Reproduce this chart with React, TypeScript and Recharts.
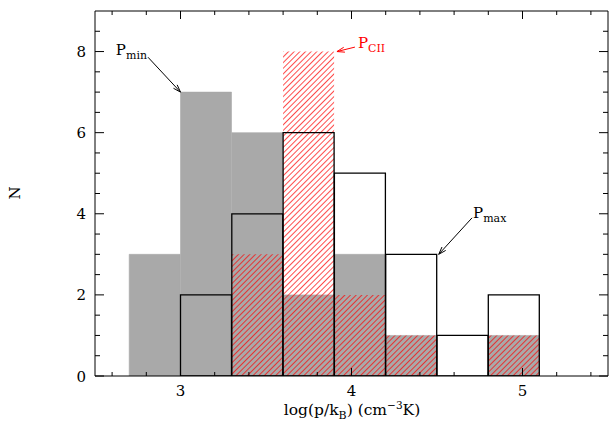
import { Bar, ComposedChart, ReferenceLine, XAxis, YAxis } from "recharts";

// histogram bins of log(p/kB), width 0.3 dex
const bins = ["2.7-3.0", "3.0-3.3", "3.3-3.6", "3.6-3.9", "3.9-4.2", "4.2-4.5", "4.5-4.8", "4.8-5.1", "5.1-5.4"];
const binMid = [2.85, 3.15, 3.45, 3.75, 4.05, 4.35, 4.65, 4.95, 5.25];
const pMin = [3, 7, 6, 2, 3, 1, 0, 1, 0];
const pMax = [0, 2, 4, 6, 5, 3, 1, 2, 0];
const pCII = [0, 0, 3, 8, 2, 1, 0, 1, 0];

const xTicks = [2.6, 2.8, 3, 3.2, 3.4, 3.6, 3.8, 4, 4.2, 4.4, 4.6, 4.8, 5, 5.2, 5.4];
const yTicks = [0, 0.5, 1, 1.5, 2, 2.5, 3, 3.5, 4, 4.5, 5, 5.5, 6, 6.5, 7, 7.5, 8, 8.5];
const xLabels = [3, 4, 5];
const yLabels = [0, 2, 4, 6, 8];

const data = bins.map((bin, i) => ({ bin, mid: binMid[i], pMin: pMin[i], pMax: pMax[i], pCII: pCII[i] }));

const FONT = "'DejaVu Serif', serif";
const W = 609;
const H = 421;
const LEFT = 95;
const TOP = 11;
const PX_PER_UNIT = (W - LEFT - 1) / 3;
const BIN_PAD = { left: 0.2 * PX_PER_UNIT, right: 0.1 * PX_PER_UNIT };

const BottomTick = (props: any) => {
  const { x, y, payload } = props;
  const major = xLabels.includes(payload.value);
  return (
    <g>
      <line x1={x} x2={x} y1={y} y2={y - (major ? 8 : 4)} stroke="#000" />
      {major && (
        <text x={x} y={y + 20} textAnchor="middle" fontSize={15} fontFamily={FONT} fill="#000">
          {payload.value}
        </text>
      )}
    </g>
  );
};

const TopTick = (props: any) => {
  const { x, y, payload } = props;
  const major = xLabels.includes(payload.value);
  return <line x1={x} x2={x} y1={y} y2={y + (major ? 8 : 4)} stroke="#000" />;
};

const LeftTick = (props: any) => {
  const { x, y, payload } = props;
  const major = yLabels.includes(payload.value);
  return (
    <g>
      <line x1={x} x2={x + (major ? 9 : 5)} y1={y} y2={y} stroke="#000" />
      {major && (
        <text x={x - 9} y={y + 5.5} textAnchor="end" fontSize={15} fontFamily={FONT} fill="#000">
          {payload.value}
        </text>
      )}
    </g>
  );
};

const RightTick = (props: any) => {
  const { x, y, payload } = props;
  const major = yLabels.includes(payload.value);
  return <line x1={x} x2={x - (major ? 9 : 5)} y1={y} y2={y} stroke="#000" />;
};

const makeArrow = (name: string, sub: string, color: string, place: "left" | "right" | "above") => (p: any) => {
  const { x1, y1, x2, y2 } = p;
  const ang = Math.atan2(y2 - y1, x2 - x1);
  const len = 8;
  const spread = 0.32;
  const ax = x2 - len * Math.cos(ang - spread);
  const ay = y2 - len * Math.sin(ang - spread);
  const bx = x2 - len * Math.cos(ang + spread);
  const by = y2 - len * Math.sin(ang + spread);
  let tx = x1;
  let ty = y1;
  let anchor = "start";
  if (place === "left") {
    tx = x1 - 1;
    ty = y1 - 2;
    anchor = "end";
  } else if (place === "right") {
    tx = x1 + 3;
    ty = y1 + 1;
  } else {
    tx = x1 + 1;
    ty = y1;
  }
  return (
    <g>
      <line x1={x1} y1={y1} x2={x2} y2={y2} stroke={color} strokeWidth={1} />
      <polyline points={`${ax},${ay} ${x2},${y2} ${bx},${by}`} fill="none" stroke={color} strokeWidth={1} />
      <text x={tx} y={ty} textAnchor={anchor} fontFamily={FONT} fontSize={15} fill={color}>
        <tspan>{name}</tspan>
        <tspan dy={4} fontSize={11}>{sub}</tspan>
      </text>
    </g>
  );
};

export default function App() {
  return (
    <div style={{ position: "absolute", left: 0, top: 0, width: W, height: H, background: "#fff" }}>
      <svg width={0} height={0} style={{ position: "absolute" }}>
        <defs>
          <pattern id="hatch" patternUnits="userSpaceOnUse" width={4} height={4} patternTransform="rotate(45)">
            <line x1={0} y1={0} x2={0} y2={4} stroke="#ff0000" strokeWidth={1.4} />
          </pattern>
        </defs>
      </svg>
      <ComposedChart
        width={W}
        height={H}
        data={data}
        margin={{ top: TOP - 1, right: 0, bottom: 0, left: 0 }}
        barCategoryGap={0}
        barGap={0}
      >
        <XAxis
          xAxisId="num"
          dataKey="mid"
          type="number"
          domain={[2.5, 5.5]}
          allowDataOverflow
          ticks={xTicks}
          interval={0}
          height={45}
          tickSize={0}
          tickMargin={0}
          tickLine={false}
          tick={<BottomTick />}
          axisLine={{ stroke: "#000" }}
        />
        <XAxis
          xAxisId="top"
          dataKey="mid"
          orientation="top"
          type="number"
          domain={[2.5, 5.5]}
          allowDataOverflow
          ticks={xTicks}
          interval={0}
          height={1}
          tickSize={0}
          tickMargin={0}
          tickLine={false}
          tick={<TopTick />}
          axisLine={{ stroke: "#000" }}
        />
        <XAxis xAxisId="b1" dataKey="bin" hide height={0} padding={BIN_PAD} />
        <XAxis xAxisId="b2" dataKey="bin" hide height={0} padding={BIN_PAD} />
        <XAxis xAxisId="b3" dataKey="bin" hide height={0} padding={BIN_PAD} />
        <YAxis
          yAxisId="left"
          type="number"
          domain={[0, 9]}
          allowDataOverflow
          ticks={yTicks}
          interval={0}
          width={LEFT}
          tickSize={0}
          tickMargin={0}
          tickLine={false}
          tick={<LeftTick />}
          axisLine={{ stroke: "#000" }}
        />
        <YAxis
          yAxisId="right"
          orientation="right"
          type="number"
          domain={[0, 9]}
          allowDataOverflow
          ticks={yTicks}
          interval={0}
          width={1}
          tickSize={0}
          tickMargin={0}
          tickLine={false}
          tick={<RightTick />}
          axisLine={{ stroke: "#000" }}
        />
        <Bar
          xAxisId="b1"
          yAxisId="left"
          dataKey="pMin"
          fill="#a9a9a9"
          stroke="#a9a9a9"
          strokeWidth={0.6}
          isAnimationActive={false}
        />
        <Bar xAxisId="b2" yAxisId="left" dataKey="pCII" fill="url(#hatch)" isAnimationActive={false} />
        <Bar
          xAxisId="b3"
          yAxisId="left"
          dataKey="pMax"
          fill="none"
          stroke="#000"
          strokeWidth={1.3}
          isAnimationActive={false}
        />
        <ReferenceLine
          xAxisId="num"
          yAxisId="left"
          segment={[{ x: 2.81, y: 7.86 }, { x: 3.0, y: 7.0 }]}
          shape={makeArrow("P", "min", "#000", "left")}
        />
        <ReferenceLine
          xAxisId="num"
          yAxisId="left"
          segment={[{ x: 4.02, y: 8.11 }, { x: 3.915, y: 8.0 }]}
          shape={makeArrow("P", "CII", "#ff0000", "right")}
        />
        <ReferenceLine
          xAxisId="num"
          yAxisId="left"
          segment={[{ x: 4.705, y: 3.9 }, { x: 4.51, y: 3.0 }]}
          shape={makeArrow("P", "max", "#000", "above")}
        />
      </ComposedChart>
      <svg width={W} height={H} style={{ position: "absolute", left: 0, top: 0, pointerEvents: "none" }}>
        <text
          x={15}
          y={193}
          transform="rotate(-90 15 193)"
          textAnchor="middle"
          dominantBaseline="central"
          fontFamily={FONT}
          fontSize={15}
          fill="#000"
        >
          N
        </text>
        <text x={352} y={415} textAnchor="middle" fontFamily={FONT} fontSize={15.5} fill="#000">
          <tspan>log(p/k</tspan>
          <tspan dy={4} fontSize={11}>B</tspan>
          <tspan dy={-4}>) (cm</tspan>
          <tspan dy={-6} fontSize={10.5}>−3</tspan>
          <tspan dy={6}>K)</tspan>
        </text>
      </svg>
    </div>
  );
}
